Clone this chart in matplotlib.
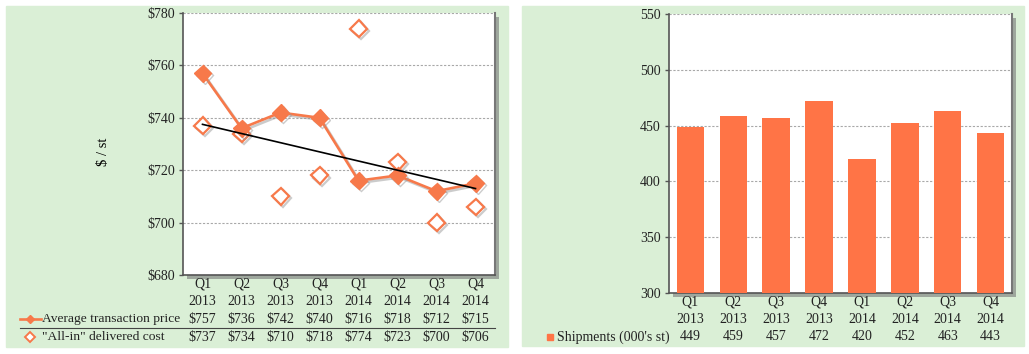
import matplotlib
matplotlib.use("Agg")
import matplotlib.pyplot as plt
import matplotlib.patheffects as pe
from matplotlib.patches import Rectangle
from matplotlib.lines import Line2D
from matplotlib.transforms import blended_transform_factory

# data
quarters = ["Q1\n2013", "Q2\n2013", "Q3\n2013", "Q4\n2013",
            "Q1\n2014", "Q2\n2014", "Q3\n2014", "Q4\n2014"]
avg_price = [757, 736, 742, 740, 716, 718, 712, 715]
delivered_cost = [737, 734, 710, 718, 774, 723, 700, 706]
trend_ends = [737.5, 713]
shipments = [449, 459, 457, 472, 420, 452, 463, 443]

ORANGE = "#f7794a"
BAR = "#ff7446"
GREEN = "#daefd6"
TXT = "#222222"
FS = 9.7

plt.rcParams["font.family"] = ["Liberation Serif", "DejaVu Serif"]
plt.rcParams["text.color"] = TXT

W, H = 1029, 354
fig = plt.figure(figsize=(W / 100, H / 100), dpi=100)


def fx(px):
    return px / W


def fy(py):
    return 1 - py / H


# green panel backgrounds
fig.patches.append(Rectangle((fx(6), fy(347)), fx(502), (341) / H,
                             transform=fig.transFigure, color=GREEN, zorder=-5))
fig.patches.append(Rectangle((fx(522), fy(346)), fx(502), (340) / H,
                             transform=fig.transFigure, color=GREEN, zorder=-5))


def style_axes(ax):
    ax.set_facecolor("white")
    ax.patch.set_path_effects([pe.SimplePatchShadow(offset=(3, -3), shadow_rgbFace="#777777", alpha=0.6),
                               pe.Normal()])
    for s in ("left", "bottom"):
        ax.spines[s].set_color("#555555")
        ax.spines[s].set_linewidth(1.2)
    ax.spines["right"].set_color("#777777")
    ax.spines["right"].set_linewidth(1.5)
    ax.spines["top"].set_visible(False)
    ax.grid(axis="y", color="#a8a8a8", linestyle=(0, (2, 1.5)), linewidth=0.8)
    ax.set_axisbelow(True)
    ax.tick_params(axis="y", length=3, width=1, color="#555555", pad=3,
                   labelsize=FS + 0.3, labelcolor=TXT)
    ax.tick_params(axis="x", length=0, pad=2, labelsize=FS + 0.3, labelcolor=TXT)
    x = range(len(quarters))
    ax.set_xticks(list(x))
    ax.set_xticklabels(quarters, linespacing=1.45)
    ax.set_xlim(-0.5, len(quarters) - 0.5)


# ---- left: price vs delivered cost ----
ax1 = fig.add_axes([fx(183), fy(275), fx(312), 262 / H])
style_axes(ax1)
x = list(range(len(quarters)))
shadow = [pe.SimpleLineShadow(offset=(1.5, -1.5), shadow_color="#999999", alpha=0.5), pe.Normal()]
ax1.plot(x, delivered_cost, linestyle="none", marker="D", markersize=8.5,
         markerfacecolor="white", markeredgecolor=ORANGE, markeredgewidth=1.6,
         zorder=3, path_effects=shadow)
ax1.plot(x, avg_price, color=ORANGE, linewidth=1.9, marker="D", markersize=8.5,
         markerfacecolor=ORANGE, markeredgecolor=ORANGE, zorder=4, path_effects=shadow)
ax1.plot([x[0], x[-1]], trend_ends, color="black", linewidth=1.2, zorder=5)
ax1.set_ylim(680, 780)
ax1.set_yticks(range(680, 781, 20))
ax1.set_yticklabels([f"${v}" for v in range(680, 781, 20)])
ax1.set_ylabel("$ / st", fontsize=FS + 0.8)
ax1.yaxis.set_label_coords((110 - 183) / 312, (275 - 152) / 262)

tr1 = blended_transform_factory(ax1.transData, fig.transFigure)
for i in x:
    ax1.text(i, fy(319), f"${avg_price[i]}", transform=tr1, ha="center", va="center", fontsize=FS + 0.3)
    ax1.text(i, fy(337), f"${delivered_cost[i]}", transform=tr1, ha="center", va="center", fontsize=FS + 0.3)
fig.text(fx(42), fy(319), "Average transaction price", ha="left", va="center", fontsize=FS)
fig.text(fx(42), fy(337), "\"All-in\" delivered cost", ha="left", va="center", fontsize=FS)
fig.add_artist(Line2D([fx(20), fx(41)], [fy(319), fy(319)], transform=fig.transFigure,
                      color=ORANGE, linewidth=1.9))
fig.add_artist(Line2D([fx(30)], [fy(319)], transform=fig.transFigure, marker="D",
                      markersize=4, color=ORANGE, linestyle="none"))
fig.add_artist(Line2D([fx(30)], [fy(337)], transform=fig.transFigure, marker="D",
                      markersize=5, markerfacecolor="white", markeredgecolor=ORANGE,
                      markeredgewidth=1.4, linestyle="none"))
fig.add_artist(Line2D([fx(20), fx(495)], [fy(328), fy(328)], transform=fig.transFigure,
                      color="#444444", linewidth=0.8))

# ---- right: shipments ----
ax2 = fig.add_axes([fx(669), fy(293), fx(343), 279 / H])
style_axes(ax2)
ax2.bar(x, shipments, width=0.64, color=BAR, zorder=3)
ax2.set_ylim(300, 550)
ax2.set_yticks(range(300, 551, 50))

tr2 = blended_transform_factory(ax2.transData, fig.transFigure)
for i in x:
    ax2.text(i, fy(337), f"{shipments[i]}", transform=tr2, ha="center", va="center", fontsize=FS + 0.3)
fig.text(fx(557), fy(337), "Shipments (000's st)", ha="left", va="center", fontsize=FS + 0.3)
fig.add_artist(Line2D([fx(550)], [fy(337)], transform=fig.transFigure, marker="s",
                      markersize=5, color=BAR, linestyle="none"))

fig.savefig("out.png", dpi=100)
